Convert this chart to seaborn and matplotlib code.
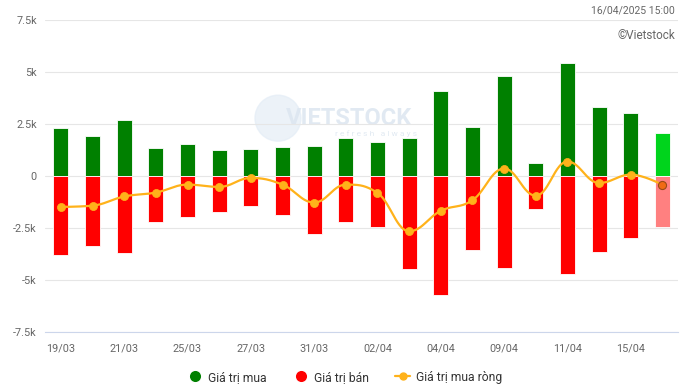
import numpy as np
import pandas as pd
import matplotlib
matplotlib.use("Agg")
import matplotlib.pyplot as plt
from matplotlib.lines import Line2D
from matplotlib.patches import Ellipse
import seaborn as sns

# data (billion VND)
dates = ['19/03', '20/03', '21/03', '24/03', '25/03', '26/03', '27/03', '28/03', '31/03', '01/04',
         '02/04', '03/04', '04/04', '08/04', '09/04', '10/04', '11/04', '14/04', '15/04', '16/04']
buy = [2.31, 1.92, 2.69, 1.35, 1.54, 1.25, 1.30, 1.39, 1.44, 1.83,
       1.63, 1.83, 4.09, 2.36, 4.81, 0.63, 5.43, 3.32, 3.03, 2.07]
sell = [-3.80, -3.37, -3.69, -2.20, -1.96, -1.76, -1.43, -1.86, -2.77, -2.24,
        -2.48, -4.50, -5.75, -3.54, -4.45, -1.57, -4.74, -3.64, -3.01, -2.48]
net = [-1.49, -1.43, -0.99, -0.80, -0.42, -0.53, -0.10, -0.42, -1.28, -0.42,
       -0.82, -2.66, -1.68, -1.17, 0.35, -0.95, 0.69, -0.34, 0.06, -0.43]
y_ticks = [-7.5, -5, -2.5, 0, 2.5, 5, 7.5]
y_labels = ['-7.5k', '-5k', '-2.5k', '0', '2.5k', '5k', '7.5k']
x_labels = dates[::2]

df = pd.DataFrame({'date': dates, 'buy': buy, 'sell': sell, 'net': net})

GREEN, RED, ORANGE = '#008000', '#ff0000', '#ffb21a'
buy_colors = [GREEN] * (len(dates) - 1) + ['#00d41c']
sell_colors = [RED] * (len(dates) - 1) + ['#ff8080']

sns.set_style('white')
plt.rcParams['font.family'] = ['Roboto', 'DejaVu Sans']

fig = plt.figure(figsize=(6.83, 3.9), dpi=100)
ax = fig.add_axes([0.066, 0.149, 0.927, 0.8])
ax.patch.set_alpha(0)

sns.barplot(data=df, x='date', y='buy', hue='date', palette=buy_colors, legend=False, saturation=1,
            width=0.475, edgecolor='white', linewidth=0.6, ax=ax, zorder=2)
sns.barplot(data=df, x='date', y='sell', hue='date', palette=sell_colors, legend=False, saturation=1,
            width=0.475, edgecolor='white', linewidth=0.6, ax=ax, zorder=2)


# highcharts-like spline through the net points
def spline(xs, ys, smoothing=1.5, n=30):
    xs = np.asarray(xs, float)
    ys = np.asarray(ys, float)
    m = len(xs)
    lc = np.column_stack([xs, ys]).copy()
    rc = np.column_stack([xs, ys]).copy()
    d = smoothing + 1
    for i in range(1, m - 1):
        lx = (smoothing * xs[i] + xs[i - 1]) / d
        ly = (smoothing * ys[i] + ys[i - 1]) / d
        rx = (smoothing * xs[i] + xs[i + 1]) / d
        ry = (smoothing * ys[i] + ys[i + 1]) / d
        corr = ((ry - ly) * (rx - xs[i])) / (rx - lx) + ys[i] - ry
        ly += corr
        ry += corr
        if ly > ys[i - 1] and ly > ys[i]:
            ly = max(ys[i - 1], ys[i]); ry = 2 * ys[i] - ly
        elif ly < ys[i - 1] and ly < ys[i]:
            ly = min(ys[i - 1], ys[i]); ry = 2 * ys[i] - ly
        if ry > ys[i + 1] and ry > ys[i]:
            ry = max(ys[i + 1], ys[i]); ly = 2 * ys[i] - ry
        elif ry < ys[i + 1] and ry < ys[i]:
            ry = min(ys[i + 1], ys[i]); ly = 2 * ys[i] - ry
        lc[i] = (lx, ly)
        rc[i] = (rx, ry)
    t = np.linspace(0, 1, n)[:, None]
    pts = []
    for i in range(m - 1):
        p0 = np.array([xs[i], ys[i]]); p3 = np.array([xs[i + 1], ys[i + 1]])
        p1 = rc[i]; p2 = lc[i + 1]
        seg = ((1 - t) ** 3) * p0 + 3 * ((1 - t) ** 2) * t * p1 + 3 * (1 - t) * t ** 2 * p2 + t ** 3 * p3
        pts.append(seg)
    pts = np.vstack(pts)
    return pts[:, 0], pts[:, 1]


xpos = np.arange(len(dates))
sx, sy = spline(xpos, net)
ax.plot(sx, sy, color=ORANGE, lw=1.6, zorder=3, solid_capstyle='round')
sns.scatterplot(x=xpos[:-1], y=net[:-1], color=ORANGE, s=34, edgecolor=ORANGE, linewidth=0.5,
                ax=ax, zorder=4, legend=False)
ax.scatter(xpos[-1:], net[-1:], color='#f06a14', s=34, edgecolor='#9a4a16', linewidth=0.8, zorder=4)

ax.set_xlim(-0.5, len(dates) - 0.5)
ax.set_ylim(-7.5, 7.5)
ax.set_yticks(y_ticks)
ax.set_yticklabels(y_labels)
ax.set_xticks(xpos[::2])
ax.set_xticklabels(x_labels)
ax.set_xlabel('')
ax.set_ylabel('')
ax.tick_params(axis='both', length=0, labelsize=7.8, colors='#666666')
ax.tick_params(axis='y', pad=6)
ax.tick_params(axis='x', pad=8)

ax.grid(axis='y', color='#e6e6e6', lw=0.8, zorder=0)
ax.set_axisbelow(True)
for s in ['top', 'right', 'left']:
    ax.spines[s].set_visible(False)
ax.spines['bottom'].set_color('#ccd6eb')
ax.spines['bottom'].set_linewidth(0.8)

# faint watermark
fig.add_artist(Ellipse((0.407, 0.697), 46 / 683, 46 / 390, transform=fig.transFigure,
                       color='#e4edf6', alpha=0.7, zorder=-1))
fig.text(0.418, 0.697, 'VIETSTOCK', fontsize=17, fontweight='bold', color='#dce6f0',
         va='center', alpha=0.85, zorder=-1)
fig.text(0.49, 0.652, 'r e f r e s h   a l w a y s', fontsize=6, color='#dce6f0', alpha=0.85, zorder=-1)

fig.text(0.988, 0.972, '16/04/2025 15:00', ha='right', va='center', fontsize=7.5, color='#666666')
fig.text(0.988, 0.91, '©Vietstock', ha='right', va='center', fontsize=8.5, color='#666666')

handles = [
    Line2D([], [], marker='o', color='w', markerfacecolor=GREEN, markersize=9, lw=0),
    Line2D([], [], marker='o', color='w', markerfacecolor=RED, markersize=9, lw=0),
    Line2D([], [], marker='o', color=ORANGE, markerfacecolor=ORANGE, markersize=5, lw=1.6),
]
fig.legend(handles, ['Giá trị mua', 'Giá trị bán', 'Giá trị mua ròng'], loc='center',
           bbox_to_anchor=(0.505, 0.033), ncol=3, frameon=False, fontsize=8.7,
           handlelength=1.2, handletextpad=0.5, columnspacing=2.2, labelcolor='#333333')

fig.savefig('out.png', dpi=100)
